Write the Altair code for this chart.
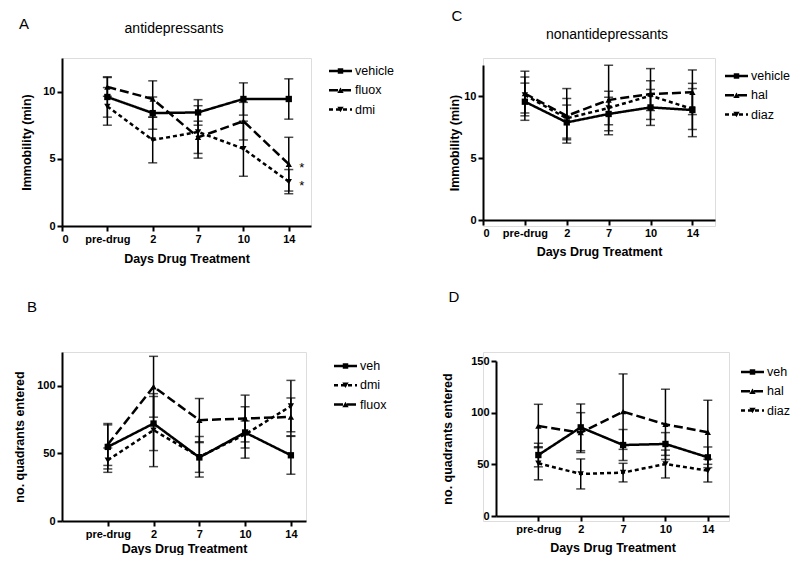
import altair as alt
import pandas as pd

FONT = "Liberation Sans"

days = ["pre-drug", "2", "7", "10", "14"]

# ---------------- Panel A : antidepressants, immobility ----------------
a_names = ["vehicle", "fluox", "dmi"]
a_roles = ["veh", "up", "down"]
a_means = [
    [9.6, 8.4, 8.45, 9.45, 9.45],
    [10.35, 9.45, 6.6, 7.8, 4.6],
    [8.9, 6.4, 7.0, 5.75, 3.3],
]
a_errs = [
    [1.5, 1.2, 0.95, 1.2, 1.5],
    [0.7, 1.35, 1.2, 1.4, 2.0],
    [1.4, 1.7, 1.95, 2.05, 0.9],
]
a_stars = ["fluox", "dmi"]

# ---------------- Panel C : nonantidepressants, immobility ----------------
c_names = ["vehicle", "hal", "diaz"]
c_roles = ["veh", "up", "down"]
c_means = [
    [9.54, 7.87, 8.55, 9.08, 8.87],
    [10.2, 8.4, 9.68, 10.16, 10.3],
    [10.08, 8.2, 9.03, 10.03, 8.95],
]
c_errs = [
    [1.5, 1.4, 1.35, 1.45, 2.15],
    [1.8, 2.2, 2.8, 2.05, 1.8],
    [1.45, 1.6, 1.35, 1.2, 1.65],
]

# ---------------- Panel B : antidepressants, quadrants ----------------
b_names = ["veh", "dmi", "fluox"]
b_roles = ["veh", "down", "up"]
b_means = [
    [54.8, 72.1, 47.0, 65.5, 48.6],
    [45.0, 67.2, 47.5, 64.0, 85.0],
    [56.6, 99.3, 74.6, 75.8, 77.0],
]
b_errs = [
    [16.3, 20.0, 11.0, 19.0, 14.0],
    [9.0, 27.0, 15.0, 10.0, 19.0],
    [15.5, 22.5, 16.0, 17.3, 14.0],
]

# ---------------- Panel D : nonantidepressants, quadrants ----------------
d_names = ["veh", "hal", "diaz"]
d_roles = ["veh", "up", "down"]
d_means = [
    [59.0, 85.8, 68.7, 69.7, 56.8],
    [87.1, 80.7, 101.0, 88.7, 81.0],
    [51.0, 40.7, 42.0, 50.3, 43.9],
]
d_errs = [
    [11.4, 22.6, 15.0, 11.0, 10.0],
    [21.0, 19.3, 36.5, 34.0, 31.0],
    [16.0, 14.5, 9.0, 13.5, 11.0],
]

DASH = {"veh": [1, 0], "up": [9, 4], "down": [4, 3]}
SHAPE = {"veh": "square", "up": "triangle-up", "down": "triangle-down"}
MSIZE = {"veh": 36, "up": 46, "down": 46}


def panel(letter, letter_xy, title, title_xy, names, roles, means, errs,
          width, height, group_h, xmax, ymax, yticks, show_zero, ytitle, ytitle_x,
          xtitle_y, legend_x, legend_y, stars=None, shift=0, vtop=0):
    rows = []
    for name, mlist, elist in zip(names, means, errs):
        for i, (m, e) in enumerate(zip(mlist, elist)):
            rows.append({"series": name, "pos": i + 1, "day": days[i],
                         "mean": m, "lo": m - e, "hi": m + e})
    df = pd.DataFrame(rows)

    labels = ["0"] + days
    label_expr = "[" + ",".join("'%s'" % l for l in labels) + "][round(datum.value)]"
    xvals = [0, 1, 2, 3, 4, 5] if show_zero else [1, 2, 3, 4, 5]
    bottom_gap = group_h - vtop - height

    xaxis_kw = dict(values=xvals, labelExpr=label_expr, title="Days Drug Treatment",
                    titleY=xtitle_y, titleX=shift + width / 2, titleBaseline="middle")
    if bottom_gap:
        xaxis_kw["offset"] = -bottom_gap
    xaxis = alt.Axis(**xaxis_kw)
    yaxis_kw = dict(values=yticks, title=ytitle, titleX=ytitle_x,
                    titleY=vtop + height / 2,
                    titleBaseline="middle", titleAngle=-90)
    if shift:
        yaxis_kw["offset"] = -shift
    yaxis = alt.Axis(**yaxis_kw)
    xs = alt.Scale(domain=[0, xmax], nice=False, zero=False,
                   range=[shift, shift + width])
    ys = alt.Scale(domain=[0, ymax], nice=False, range=[vtop + height, vtop])

    def X():
        return alt.X("pos:Q", scale=xs, axis=xaxis)

    def Y(field):
        return alt.Y(field + ":Q", scale=ys, axis=yaxis)

    dash_scale = alt.Scale(domain=names, range=[DASH[r] for r in roles])
    shape_scale = alt.Scale(domain=names, range=[SHAPE[r] for r in roles])

    base = alt.Chart(df)
    bars = base.mark_rule(color="black", strokeWidth=1.5).encode(
        x=X(), y=Y("lo"), y2="hi:Q", detail="series:N")
    cap_lo = base.mark_tick(color="black", orient="horizontal", size=9,
                            thickness=1.5).encode(x=X(), y=Y("lo"))
    cap_hi = base.mark_tick(color="black", orient="horizontal", size=9,
                            thickness=1.5).encode(x=X(), y=Y("hi"))
    lines = base.mark_line(color="black", strokeWidth=2.5).encode(
        x=X(), y=Y("mean"),
        strokeDash=alt.StrokeDash("series:N", scale=dash_scale, legend=None),
        detail="series:N", order="pos:Q")
    pts = base.mark_point(filled=True, color="black", opacity=1, size=40).encode(
        x=X(), y=Y("mean"),
        shape=alt.Shape("series:N", scale=shape_scale, legend=None))

    layers = [bars, cap_lo, cap_hi, lines, pts]

    one = pd.DataFrame({"t": [letter]})
    layers.append(alt.Chart(one).mark_text(fontSize=15, font=FONT, align="center",
                                           baseline="middle", color="black").encode(
        x=alt.value(shift + letter_xy[0]), y=alt.value(vtop + letter_xy[1]), text="t:N"))
    if title:
        tdf = pd.DataFrame({"t": [title]})
        layers.append(alt.Chart(tdf).mark_text(fontSize=14, font=FONT, align="center",
                                               baseline="middle", color="black").encode(
            x=alt.value(shift + title_xy[0]), y=alt.value(vtop + title_xy[1]), text="t:N"))

    for k, (name, role) in enumerate(zip(names, roles)):
        ly = vtop + legend_y + k * 19.3
        lx = shift + legend_x
        ldf = pd.DataFrame({"s": [name]})
        lc = alt.Chart(ldf)
        layers.append(lc.mark_rule(color="black", strokeWidth=2.5,
                                   strokeDash=DASH[role]).encode(
            x=alt.value(lx), x2=alt.value(lx + 23), y=alt.value(ly)))
        layers.append(lc.mark_point(filled=True, color="black", opacity=1,
                                    shape=SHAPE[role], size=MSIZE[role] - 6).encode(
            x=alt.value(lx + 11.5), y=alt.value(ly)))
        layers.append(lc.mark_text(align="left", baseline="middle", fontSize=12.5,
                                   font=FONT, color="black").encode(
            x=alt.value(lx + 26), y=alt.value(ly), text="s:N"))

    if stars:
        srows = []
        for s in stars:
            idx = names.index(s)
            srows.append({"pos": 5, "mean": means[idx][4], "t": "*"})
        sdf = pd.DataFrame(srows)
        layers.append(alt.Chart(sdf).mark_text(fontSize=13, font=FONT, dx=13, dy=4,
                                               color="black").encode(
            x=X(), y=Y("mean"), text="t:N"))

    return alt.layer(*layers).properties(width=width + shift, height=group_h)


pA = panel("A", (-38, -34), "antidepressants", (112, -29), a_names, a_roles,
           a_means, a_errs, 249, 168, 168, 5.49, 12.5, [0, 5, 10], True,
           "Immobility (min)", -36, 32, 267, 13, stars=a_stars)
pC = panel("C", (-26, -49.5), "nonantidepressants", (124, -30), c_names, c_roles,
           c_means, c_errs, 232, 155, 168, 5.54, 12.5, [0, 5, 10], True,
           "Immobility (min)", -29, 31, 242, 11, vtop=7)
pB = panel("B", (-30, -45), None, None, b_names, b_roles,
           b_means, b_errs, 244, 169, 169, 5.33, 125, [0, 50, 100], False,
           "no. quadrants entered", -43, 27, 272, 14)
pD = panel("D", (-42, -64), None, None, d_names, d_roles,
           d_means, d_errs, 233, 155, 169, 5.5, 150, [0, 50, 100, 150], False,
           "no. quadrants entered", -49, 31, 245, 11, shift=13, vtop=9)

chart = alt.concat(
    pA, pC, pB, pD, columns=2,
    spacing={"row": 126, "column": 172}, bounds="flush"
).resolve_scale(
    strokeDash="independent", shape="independent"
).properties(
    padding={"left": 4, "top": 0, "right": 0, "bottom": 0}
).configure_view(stroke=None).configure(font=FONT).configure_axis(
    grid=False, domainColor="black", domainWidth=2, tickColor="black",
    tickWidth=2, tickSize=5, labelColor="black", labelFont=FONT,
    labelFontSize=11, labelFontWeight="bold", labelPadding=2,
    titleColor="black", titleFont=FONT, titleFontSize=12.5,
    titleFontWeight="bold"
)

chart.save("out.html", embed_options={"renderer": "svg", "actions": False})
